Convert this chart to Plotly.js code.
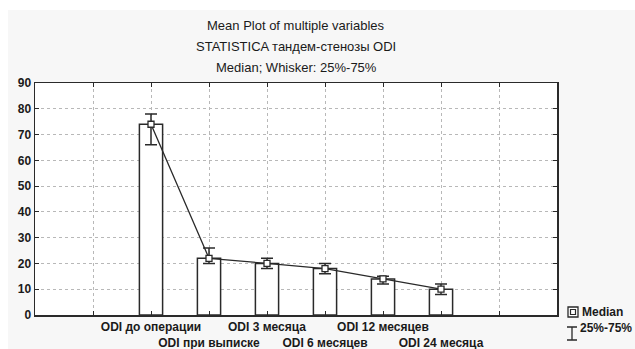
<!DOCTYPE html>
<html>
<head>
<meta charset="utf-8">
<script src="https://cdn.plot.ly/plotly-3.0.1.min.js"></script>
<style>
html,body{margin:0;padding:0;background:#ffffff;}
#chart{position:absolute;left:8px;top:10px;width:627px;height:339px;}
</style>
</head>
<body>
<div id="chart"></div>
<script>
// Data
const positions = [2, 3, 4, 5, 6, 7];
const categories = ["ODI до операции", "ODI при выписке", "ODI 3 месяца", "ODI 6 месяцев", "ODI 12 месяцев", "ODI 24 месяца"];
const medians = [74, 22, 20, 18, 14, 10];
const q25 = [66, 20, 18, 16, 12, 8];
const q75 = [78, 26, 22, 20, 15, 12];
const titleLines = ["Mean Plot of multiple variables", "STATISTICA тандем-стенозы ODI", "Median; Whisker: 25%-75%"];
const legendLabels = ["Median", "25%-75%"];

const errPlus = q75.map((v, i) => v - medians[i]);
const errMinus = medians.map((v, i) => v - q25[i]);

const dark = '#2a2a2a';
const font = 'Liberation Sans, Arial, sans-serif';

// tick labels: staggered on two rows
const tickvals = [1, 2, 3, 4, 5, 6, 7, 8];
const ticktext = ['', ...categories.map((c, i) => (i % 2 === 1 ? '<br>' + c : c)), ''];

const traces = [
  {
    type: 'bar', x: positions, y: medians, width: 0.4,
    marker: {color: '#ffffff', line: {color: dark, width: 1.5}},
    hoverinfo: 'skip', showlegend: false
  },
  {
    type: 'scatter', mode: 'lines+markers', x: positions, y: medians,
    line: {color: dark, width: 1.3},
    marker: {symbol: 'square', size: 6, color: '#ffffff', line: {color: dark, width: 1.3}},
    error_y: {type: 'data', array: errPlus, arrayminus: errMinus, color: dark, thickness: 1.5, width: 6},
    showlegend: false
  }
];

const annotations = titleLines.map((t, i) => ({
  text: t, xref: 'paper', yref: 'paper', x: 0.5, xanchor: 'center',
  y: 1, yanchor: 'middle', yshift: 73 - [15, 36, 57][i] ,
  showarrow: false, font: {family: font, size: 13, color: '#1a1a1a'}
}));
// legend texts
annotations.push({text: legendLabels[0], xref: 'paper', yref: 'paper', x: 1, xanchor: 'left', xshift: 23,
  y: 0, yanchor: 'middle', yshift: 3, showarrow: false,
  font: {family: font, size: 12, color: '#1a1a1a', weight: 'bold'}});
annotations.push({text: legendLabels[1], xref: 'paper', yref: 'paper', x: 1, xanchor: 'left', xshift: 21,
  y: 0, yanchor: 'middle', yshift: -13, showarrow: false,
  font: {family: font, size: 12, color: '#1a1a1a', weight: 'bold'}});

const layout = {
  width: 627, height: 339,
  paper_bgcolor: '#f7f7f7', plot_bgcolor: '#ffffff',
  margin: {l: 27, r: 78, t: 73, b: 34},
  font: {family: font, size: 12, color: '#1a1a1a'},
  showlegend: false,
  bargap: 0,
  xaxis: {
    range: [0, 9], tickmode: 'array', tickvals: tickvals, ticktext: ticktext, tickangle: 0,
    showgrid: true, gridcolor: '#b8b8b8', griddash: 'dot', gridwidth: 1,
    showline: true, mirror: 'ticks', linecolor: dark, linewidth: 1.5,
    ticks: 'inside', ticklen: 4, tickcolor: dark, tickwidth: 1,
    tickfont: {family: font, size: 12, color: '#1a1a1a', weight: 'bold'},
    zeroline: false, fixedrange: true, automargin: false
  },
  yaxis: {
    range: [0, 90], tickmode: 'array', tickvals: [0,10,20,30,40,50,60,70,80,90],
    showgrid: true, gridcolor: '#b8b8b8', griddash: 'dot', gridwidth: 1,
    showline: true, mirror: 'ticks', linecolor: dark, linewidth: 1.5,
    ticks: 'inside', ticklen: 4, tickcolor: dark, tickwidth: 1,
    tickfont: {family: font, size: 12, color: '#1a1a1a', weight: 'bold'},
    zeroline: false, fixedrange: true, automargin: false
  },
  annotations: annotations,
  shapes: [
    // legend: median icon (box with marker)
    {type: 'rect', xref: 'paper', yref: 'paper', xsizemode: 'pixel', ysizemode: 'pixel',
     xanchor: 1, yanchor: 0, x0: 11, x1: 21, y0: -2, y1: 8, line: {color: dark, width: 1.3}, fillcolor: '#ffffff'},
    {type: 'rect', xref: 'paper', yref: 'paper', xsizemode: 'pixel', ysizemode: 'pixel',
     xanchor: 1, yanchor: 0, x0: 13.5, x1: 18.5, y0: 0.5, y1: 5.5, line: {color: dark, width: 1.2}, fillcolor: '#ffffff'},
    // legend: whisker icon
    {type: 'path', xref: 'paper', yref: 'paper', xsizemode: 'pixel', ysizemode: 'pixel',
     xanchor: 1, yanchor: 0, path: 'M 10 -12 L 20 -12 M 15 -12 L 15 -25 M 10 -25 L 20 -25',
     line: {color: dark, width: 1.3}}
  ]
};

Plotly.newPlot('chart', traces, layout, {displayModeBar: false, staticPlot: true});
</script>
</body>
</html>
